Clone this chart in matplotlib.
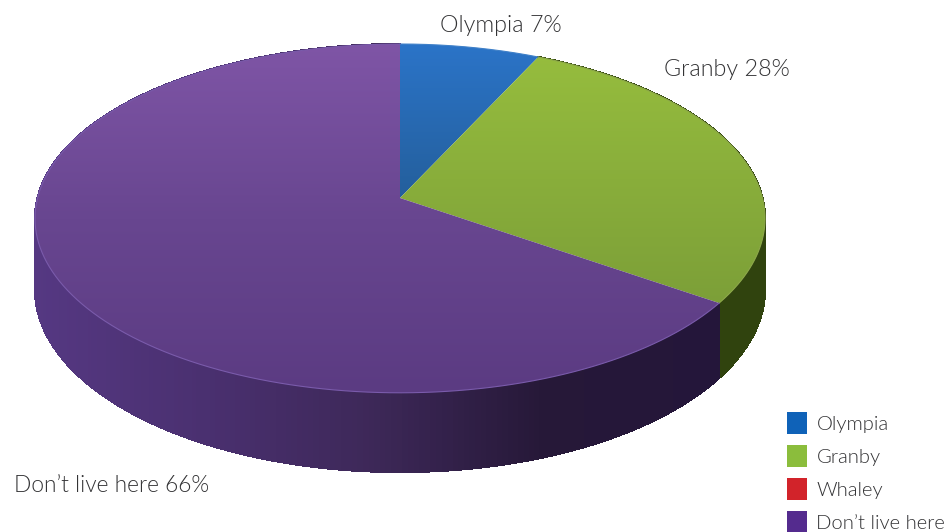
import numpy as np
import matplotlib
matplotlib.use('Agg')
import matplotlib.pyplot as plt
from matplotlib.collections import PolyCollection
from matplotlib.colors import LinearSegmentedColormap
from matplotlib.patches import Patch

# data
categories = ['Olympia', 'Granby', 'Whaley', "Don't live here"]
values = [7, 28, 0, 66]
legend_colors = ['#0f62b8', '#8bbd3c', '#d2232a', '#542b8e']

# top face gradient (top -> bottom), side colours (left -> right)
top_colors = {
    'Olympia': ['#2b74c8', '#245f9c'],
    'Granby': ['#97be3e', '#7c9f38'],
    "Don't live here": ['#7f55a6', '#684690', '#5b3b82'],
}
side_colors = {
    'Granby': ['#3a4f12', '#30430e'],
    "Don't live here": ['#553882', '#4a3070', '#3d2858', '#261838', '#24163a'],
}

plt.rcParams['font.family'] = ['Lato', 'DejaVu Sans']
text_color = '#333335'

# pie geometry in image pixels
cx, cy = 400, 198
ax_x, ax_y = 362.5, 172
persp = 0.117
depth = 70


def project(theta, r=1.0):
    # theta runs clockwise from 12 o'clock
    X = r * np.sin(theta)
    Y = r * np.cos(theta)
    w = 1 + persp * Y
    return cx + ax_x * X / w, cy - ax_y * Y / w, depth / w


fig = plt.figure(figsize=(9.47, 5.32), dpi=100)
ax = fig.add_axes([0, 0, 1, 1])

edges = np.cumsum([0] + values) / sum(values) * 2 * np.pi

# sides first
for name, a, b in zip(categories, edges[:-1], edges[1:]):
    if b <= a or name not in side_colors:
        continue
    cmap = LinearSegmentedColormap.from_list(name, side_colors[name])
    t = np.linspace(a, b, 300)
    x, y, d = project(t)
    # outline underneath so the silhouette stays smooth
    ax.fill(np.r_[x, x[::-1]], np.r_[y, (y + d)[::-1]], color=side_colors[name][2 if len(side_colors[name]) > 2 else 0], lw=0)
    quads = []
    cols = []
    for i in range(len(t) - 1):
        quads.append([(x[i], y[i]), (x[i + 1], y[i + 1]),
                      (x[i + 1], y[i + 1] + d[i + 1]), (x[i], y[i] + d[i])])
        cols.append(cmap(np.clip((x[i] - 35) / 680, 0, 1)))
    ax.add_collection(PolyCollection(quads, facecolors=cols, edgecolors=cols, linewidths=0.8, antialiaseds=False))

# top faces with a vertical gradient
for name, a, b in zip(categories, edges[:-1], edges[1:]):
    if b <= a:
        continue
    t = np.linspace(a, b, 300)
    x, y, _ = project(t)
    poly_x = np.r_[cx, x]
    poly_y = np.r_[cy, y]
    patch = ax.fill(poly_x, poly_y, color='none', lw=0)[0]
    cmap = LinearSegmentedColormap.from_list(name + '_top', top_colors[name])
    top_y, bottom_y = 44, 393
    if name == 'Granby':
        bottom_y = 305
    elif name == 'Olympia':
        bottom_y = 198
    grad = np.linspace(0, 1, 256).reshape(-1, 1)
    im = ax.imshow(grad, cmap=cmap, extent=[0, 947, bottom_y, top_y], aspect='auto', zorder=2)
    im.set_clip_path(patch)
    # thin rim light
    ax.plot(x, y, color={'Olympia': '#3f80c8', 'Granby': '#8da84a'}.get(name, '#7a5bab'),
            lw=0.8, zorder=3)

ax.set_xlim(0, 947)
ax.set_ylim(532, 0)
ax.axis('off')

ax.text(501, 25, 'Olympia 7%', ha='center', va='center', fontsize=16.8, weight=300, color=text_color)
ax.text(726.5, 70, 'Granby 28%', ha='center', va='center', fontsize=16.8, weight=300, color=text_color)
ax.text(112, 486, "Don\u2019t live here 66%", ha='center', va='center', fontsize=16.4, weight=300, color=text_color)

handles = [Patch(facecolor=c, edgecolor='none') for c in legend_colors]
labels = [c.replace("'", '\u2019') for c in categories]
ax.legend(handles, labels, loc='lower left', bbox_to_anchor=(787 / 947, -0.002), frameon=False,
          prop={'size': 14.6, 'weight': 300}, labelcolor=text_color, handlelength=1.0, handleheight=1.28,
          handletextpad=0.45, labelspacing=0.55, borderpad=0, borderaxespad=0)

fig.savefig('out.png', dpi=100)
